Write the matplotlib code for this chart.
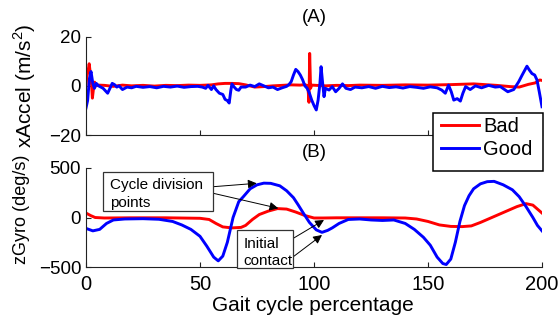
import matplotlib
matplotlib.use("Agg")
import matplotlib.pyplot as plt
from matplotlib.patches import Rectangle

plt.rcParams['font.family'] = ['Liberation Sans', 'DejaVu Sans']
plt.rcParams['mathtext.fontset'] = 'custom'
plt.rcParams['mathtext.rm'] = 'Liberation Sans'

# ---------------- data ----------------
# (A) xAccel, "Bad" (red)
acc_bad_x = [0, 0.3, 0.9, 1.4, 1.9, 2.4, 2.8, 3.3, 3.8, 4.4, 5.5, 8, 12, 16, 20, 25, 30, 35, 40, 45,
             50, 55, 58, 61, 64, 67, 70, 74, 78, 82, 86, 90, 94, 96, 97.3, 97.8, 98.1, 98.5, 99,
             101, 105, 110, 115, 120, 130, 140, 150, 160, 170, 180, 186, 190, 194, 197, 199, 200]
acc_bad_y = [0, 3.5, 6, 9, 5, 1, -5, -1, 1.5, 0, 0.3, 0.2, -0.2, 0.3, 0, 0.2, -0.1, 0.2, 0.1, 0.3,
             0.2, 0.4, 0.8, 1, 1, 0.9, 0.4, -0.5, -0.3, 0, 0.2, 0.4, 0.3, 0.5, 0, -6.7, 13.2, -1, 0.3,
             0.2, 0, 0.2, 0.1, 0.3, 0.2, 0.4, 0.3, 0.5, 0.8, 0.2, -0.3, -0.5, 0.6, 1.2, 2.4, 2.2]

# (A) xAccel, "Good" (blue)
acc_good_x = [0, 0.7, 1.5, 2.2, 3, 3.7, 4.5, 5.5, 6.5, 7.5, 8.5, 9.5, 10.5, 11.5, 12.5, 13.5, 14.5, 16,
              18, 20, 22, 25, 28, 31, 34, 37, 40, 43, 46, 49, 51, 52.5, 53.5, 55, 56, 57, 58.5, 60,
              61, 62, 62.8, 63.5, 64, 65, 66, 67, 68, 70, 72, 74, 76, 78, 80, 82, 84, 86, 88, 89,
              90, 91, 92, 93, 94, 95, 96, 97, 98, 99, 100, 101, 101.8, 102.6, 103.1, 103.8, 104.4,
              105, 106.6, 108, 109.5, 111, 112.5, 114, 116, 118, 121, 124, 127, 130, 133, 136, 139,
              142, 145, 148, 151, 154, 156, 157.6, 159, 160.2, 161.3, 162.8, 164.2, 165.3, 166.5,
              168.5, 170.8, 173.5, 176.6, 179.5, 181.7, 185, 187.6, 189.8, 191.3, 193.4, 194.4,
              195.6, 196.8, 197.8, 198.8, 200]
acc_good_y = [-9, -6, 3, 5.8, 1, -1, 1, 0, -0.5, -1, -2, -3, -1, 1, 0.5, -0.5, 0, -1.5,
              -0.5, -0.8, -0.2, -0.6, -0.3, -0.8, -0.2, -0.5, -0.1, -0.6, -0.3, -0.2, -0.5, -1, 0.2,
              -1.5, 0, -1.5, -3, -3.5, -5.5, -6, -7, -2, 0.8, -0.5, -1.5, -1.8, -0.5, -0.5, 0.3,
              -0.3, 0.8, 0, -0.8, -0.5, -1.5, -0.8, -0.2, 0.5, 1.7, 4.4, 6.7, 5.8, 4.4, 2.5, 0,
              -1, -3, -5.8, -8, -9.8, -5.8, 1, 7.8, 1, -4.4, -1, -1.7, -0.3, -2.4, -1, 0.8, -1,
              -1.5, -0.5, -0.8, -0.3, -1, -0.2, -0.7, -0.4, -0.9, -0.3, -0.6, -1, -0.4, -0.8, -1.7,
              -3, 0.3, -2.4, -5.8, -5.2, -6.2, -3, -0.3, -1.5, 0, -0.8, 0.2, -0.5, -0.3, -2.4,
              -1.5, 1.7, 4.4, 8, 6.5, 5, 4.4, 2.4, -2.4, -8.5]

# (B) zGyro, "Bad" (red)
gyr_bad_x = [0, 2, 4, 8, 20, 35, 50, 54, 57, 60, 64, 68, 70, 73, 76, 80, 84, 88, 92, 96, 100,
             104, 110, 120, 130, 140, 145, 150, 155, 160, 165, 169, 173, 177, 181, 185, 189,
             193, 196, 198, 200]
gyr_bad_y = [45, 20, 0, -5, -3, -3, -8, -20, -60, -95, -105, -100, -80, -20, 30, 65, 90, 85, 55,
             20, -5, -5, -3, -3, -3, -5, -15, -40, -75, -90, -92, -85, -50, -10, 30, 70, 110,
             140, 125, 85, 45]

# (B) zGyro, "Good" (blue)
gyr_good_x = [0, 3, 6, 9, 12, 17, 25, 32, 38, 42, 46, 50, 53, 56, 58, 60, 62, 64.5, 67, 69, 72,
              75, 78, 81, 85, 88, 91, 93, 95.3, 98, 101, 103.5, 106, 108, 111, 115, 120, 125, 130,
              135, 140, 144, 148, 151, 154, 156.5, 158, 160, 162, 164, 166, 168, 170, 173, 176,
              179, 183, 187, 190, 193, 196, 198, 200]
gyr_good_y = [-110, -135, -120, -60, -25, -15, -12, -18, -40, -75, -120, -190, -290, -400, -438,
              -390, -250, 0, 160, 210, 290, 330, 347, 345, 320, 270, 200, 130, 45, -50, -125, -150,
              -130, -105, -60, -20, -15, -25, -30, -25, -60, -120, -200, -280, -400, -465, -475,
              -420, -250, -40, 120, 220, 290, 340, 362, 365, 330, 280, 210, 110, 0, -80, -135]

series_names = ["Bad", "Good"]
series_colors = ["#ff0000", "#0000ff"]
x_ticks = [0, 50, 100, 150, 200]
acc_ticks = [-20, 0, 20]
gyr_ticks = [-500, 0, 500]

# ---------------- figure ----------------
W, H = 558, 320
fig = plt.figure(figsize=(W / 100, H / 100), dpi=100)

def fx(px):
    return px / W

def fy(py):
    return 1 - py / H

axA = fig.add_axes([fx(86), fy(135), fx(542) - fx(86), fy(36.7) - fy(135)])
axB = fig.add_axes([fx(86), fy(267), fx(542) - fx(86), fy(168) - fy(267)])

lw = 2.1
lA1, = axA.plot(acc_bad_x, acc_bad_y, color=series_colors[0], lw=lw, label=series_names[0])
lA2, = axA.plot(acc_good_x, acc_good_y, color=series_colors[1], lw=lw, label=series_names[1])
axB.plot(gyr_bad_x, gyr_bad_y, color=series_colors[0], lw=lw)
axB.plot(gyr_good_x, gyr_good_y, color=series_colors[1], lw=lw)

for ax in (axA, axB):
    ax.set_xlim(0, 200)
    ax.set_xticks(x_ticks)
    for s in ("top", "right"):
        ax.spines[s].set_visible(False)
    for s in ("left", "bottom"):
        ax.spines[s].set_linewidth(0.8)
        ax.spines[s].set_color("#222222")
    ax.tick_params(direction="in", length=3.5, width=0.8, colors="#222222", labelcolor="black")
    ax.tick_params(axis="y", labelsize=13.5, pad=3.5)
    ax.tick_params(axis="x", labelsize=14.5, pad=6)

axA.set_ylim(-20, 20)
axA.set_yticks(acc_ticks)
axA.set_yticklabels(["\u221220", "0", "20"])
axA.set_xticklabels([])
axB.set_ylim(-500, 500)
axB.set_yticks(gyr_ticks)
axB.set_yticklabels(["\u2212500", "0", "500"])
axB.set_xticklabels([str(t) for t in x_ticks])

axA.set_ylabel("xAccel (m/s$^2$)", fontsize=15)
axB.set_ylabel("zGyro (deg/s)", fontsize=13)
axA.yaxis.set_label_coords((37.5 - 86) / 456, (135 - 86) / 98.3)
axB.yaxis.set_label_coords((30 - 86) / 456, (267 - 209.5) / 99)
axB.set_xlabel("Gait cycle percentage", fontsize=15)
axB.xaxis.set_label_coords((312.5 - 86) / 456, (267 - 296) / 99)

fig.text(fx(314), fy(22), "(A)", ha="center", va="baseline", fontsize=13.5)
fig.text(fx(314), fy(157), "(B)", ha="center", va="baseline", fontsize=13.5)

# legend (entries laid out by matplotlib, frame drawn to the reference extent)
leg = fig.legend(handles=[lA1, lA2], loc="upper left",
                 bbox_to_anchor=(fx(440.7), fy(117)), fontsize=14.5,
                 frameon=False, handlelength=1.92, handletextpad=0.2,
                 borderpad=0, labelspacing=0.2, borderaxespad=0)
fig.patches.append(Rectangle((fx(432.7), fy(170.7)), fx(543.3) - fx(432.7), fy(112.7) - fy(170.7),
                             transform=fig.transFigure, fc="white", ec="black", lw=1.1, zorder=0.5))
leg.set_zorder(3)

# annotation boxes
def px2data(px, py):
    return ((px - 86) / 2.28, (217.5 - py) * 1000 / 99)

box_specs = [((102.7, 172.3, 213.3, 210.7), ["Cycle division", "points"], 110, [189.3, 206.7]),
             ((236.7, 230.0, 293.3, 268.3), ["Initial", "contact"], 243.3, [248.3, 265.0])]
for (x0, y0, x1, y1), lines, tx, baselines in box_specs:
    fig.patches.append(Rectangle((fx(x0), fy(y1)), fx(x1) - fx(x0), fy(y0) - fy(y1),
                                 transform=fig.transFigure, fc="white", ec="#333333",
                                 lw=0.9, zorder=4))
    for line, by in zip(lines, baselines):
        fig.text(fx(tx), fy(by), line, ha="left", va="baseline", fontsize=11, zorder=5)

arrows = [((213.3, 186.7), (256.7, 183.3)),
          ((213.3, 193.3), (278.3, 208.3)),
          ((293.3, 238.3), (324, 220)),
          ((293.3, 256.7), (322, 235))]
for tail, head in arrows:
    axB.annotate("", xy=px2data(*head), xytext=px2data(*tail),
                 arrowprops=dict(arrowstyle="-|>", color="black", lw=0.7,
                                 mutation_scale=13, shrinkA=0, shrinkB=0),
                 annotation_clip=False, zorder=6)

fig.savefig("out.png", dpi=100)
